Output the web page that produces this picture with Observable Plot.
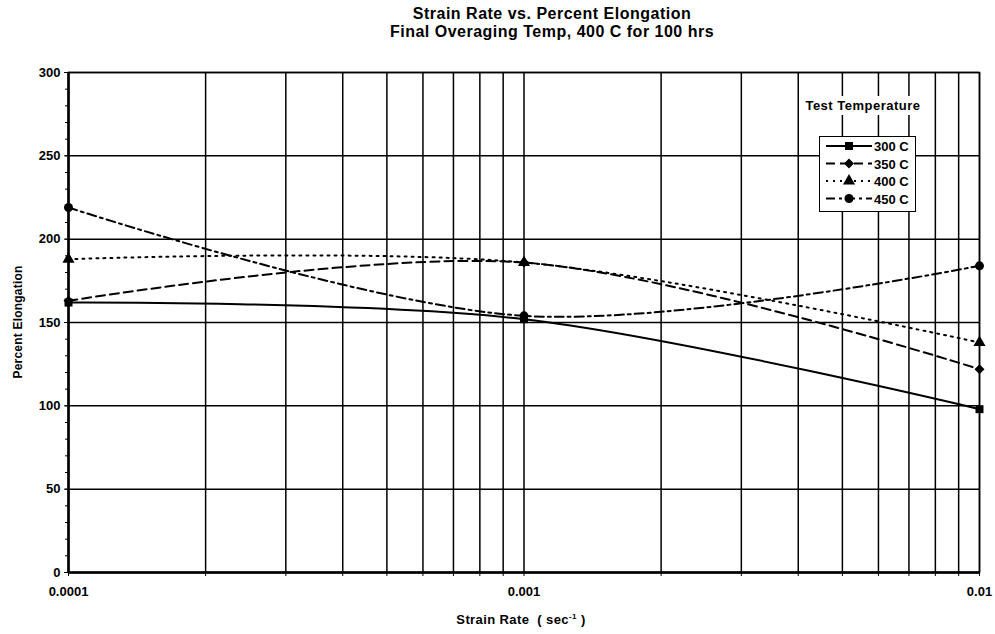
<!DOCTYPE html>
<html><head><meta charset="utf-8">
<script src="https://cdn.jsdelivr.net/npm/d3@7"></script>
<script src="https://cdn.jsdelivr.net/npm/@observablehq/plot@0.6"></script>
<style>
body{margin:0;background:#fff;font-family:"Liberation Sans",Arial,sans-serif;font-weight:700;color:#000;}
#wrap{position:relative;width:995px;height:634px;overflow:hidden;}
#chart{position:absolute;left:0;top:0;}
#title{position:absolute;left:302px;width:500px;top:5px;text-align:center;font-size:16px;line-height:18px;letter-spacing:0.5px;}
#xlabel{position:absolute;left:371px;width:300px;top:612px;text-align:center;font-size:13px;letter-spacing:0.4px;}
#xlabel sup{font-size:8px;}
</style></head><body>
<div id="wrap">
<div id="chart"></div>
<div id="title">Strain Rate vs. Percent Elongation<br>Final Overaging Temp, 400 C for 100 hrs</div>
<div id="xlabel">Strain Rate &nbsp;( sec<sup>-1</sup> )</div>
</div>
<script>
// ---- data ----
const strainRates = [0.0001, 0.001, 0.01];
const series = ["300 C", "350 C", "400 C", "450 C"];
const elong300 = [162, 152, 98];
const elong350 = [163, 186, 122];
const elong400 = [188, 186, 138];
const elong450 = [219, 154, 184];
const xTickValues = [0.0001, 0.001, 0.01];
const xTickLabels = ["0.0001", "0.001", "0.01"];
const yTickValues = [0, 50, 100, 150, 200, 250, 300];
const legendTitle = "Test Temperature";

const values = [elong300, elong350, elong400, elong450];
const rows = series.flatMap((s, i) => strainRates.map((r, j) => ({series: s, rate: r, elong: values[i][j]})));

const dashes = ["none", "9,5", "2,5", "9,4,3,4"];
const symbols = ["square", "diamond2", "triangle", "circle"];

// log grid positions (1..9 per decade)
const xGrid = [];
for (const e of [-4, -3]) for (let m = 1; m <= 9; m++) xGrid.push(+(m * Math.pow(10, e)).toPrecision(3));
xGrid.push(0.01);
const yMinor = d3.range(0, 301, 10);

const font = '"Liberation Sans", Arial, sans-serif';

const plot = Plot.plot({
  width: 995, height: 634,
  marginLeft: 68, marginRight: 16, marginTop: 72, marginBottom: 62,
  style: `font-family:${font};font-size:13px;font-weight:700;color:#000;background:#fff;`,
  x: {type: "log", domain: [0.0001, 0.01]},
  y: {domain: [0, 300]},
  symbol: {domain: series, range: symbols},
  marks: [
    Plot.gridX(xGrid, {stroke: "black", strokeOpacity: 1, strokeWidth: 1.5}),
    Plot.gridY(yTickValues, {stroke: "black", strokeOpacity: 1, strokeWidth: 1.5}),
    Plot.axisX(xGrid, {tickSize: 4, tickPadding: 10, label: null,
      tickFormat: d => { const k = xTickValues.findIndex(v => Math.abs(v - d) / v < 1e-6); return k >= 0 ? xTickLabels[k] : ""; }}),
    Plot.axisY(yMinor, {tickSize: 3, tickFormat: () => "", label: null}),
    Plot.axisY(yTickValues, {tickSize: 4, tickPadding: 4, label: null}),
    Plot.frame({stroke: "black", strokeWidth: 1.5}),
    Plot.ruleX([0.0001], {stroke: "black", strokeWidth: 2.5}),
    Plot.ruleY([0], {stroke: "black", strokeWidth: 2.5}),
    ...series.map((s, i) => Plot.line(rows.filter(d => d.series === s), {
      x: "rate", y: "elong", curve: "catmull-rom", stroke: "black", strokeWidth: 2,
      strokeDasharray: dashes[i] === "none" ? undefined : dashes[i]
    })),
    Plot.dot(rows, {x: "rate", y: "elong", symbol: "series", fill: "black", stroke: "none", r: 4.5})
  ]
});
document.getElementById("chart").appendChild(plot);

// y-axis title and legend
const svg = d3.select(plot);
svg.append("text")
  .attr("transform", "translate(22,322) rotate(-90)")
  .attr("text-anchor", "middle")
  .style("font-size", "12px")
  .style("letter-spacing", "0.2px")
  .text("Percent Elongation");

const lg = svg.append("g");
lg.append("rect").attr("x", 803).attr("y", 96).attr("width", 120).attr("height", 19).attr("fill", "white");
lg.append("text").attr("x", 863).attr("y", 110).attr("text-anchor", "middle")
  .style("font-size", "13px").style("letter-spacing", "0.5px").text(legendTitle);
lg.append("rect").attr("x", 819.5).attr("y", 136.5).attr("width", 96).attr("height", 75)
  .attr("fill", "white").attr("stroke", "black").attr("stroke-width", 1);
const d3sym = [d3.symbolSquare, d3.symbolDiamond2, d3.symbolTriangle, d3.symbolCircle];
series.forEach((s, i) => {
  const y = 146 + i * 17.5;
  const ln = lg.append("line").attr("x1", 826).attr("x2", 872).attr("y1", y).attr("y2", y)
    .attr("stroke", "black").attr("stroke-width", 2);
  if (dashes[i] !== "none") ln.attr("stroke-dasharray", dashes[i]);
  lg.append("path").attr("d", d3.symbol(d3sym[i], Math.PI * 4.5 * 4.5)())
    .attr("transform", `translate(849,${y})`).attr("fill", "black");
  lg.append("text").attr("x", 874).attr("y", y + 5).attr("text-anchor", "start")
    .style("font-size", "13px").text(s);
});
</script>
</body></html>
